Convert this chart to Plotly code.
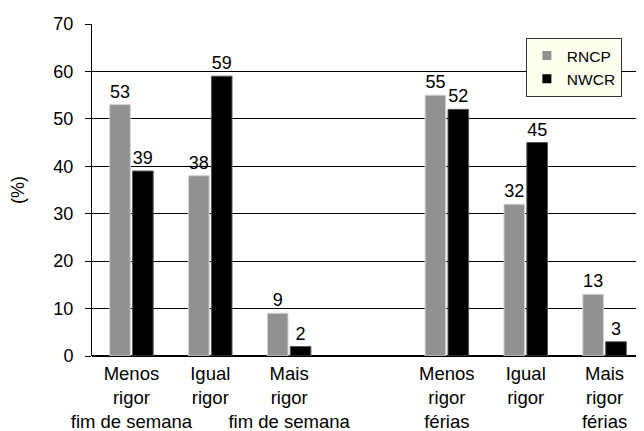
import plotly.graph_objects as go

positions = [0, 1, 2, 4, 5, 6]
labels = ["Menos<br>rigor<br>fim de semana", "Igual<br>rigor", "Mais<br>rigor<br>fim de semana",
          "Menos<br>rigor<br>férias", "Igual<br>rigor", "Mais<br>rigor<br>férias"]
rncp = [53, 38, 9, 55, 32, 13]
nwcr = [39, 59, 2, 52, 45, 3]

font = "Liberation Sans, Arial, sans-serif"
gray = "#919191"

fig = go.Figure()
fig.add_trace(go.Bar(x=positions, y=rncp, name="RNCP", showlegend=False,
                     marker=dict(color=gray, line=dict(color="#d0d0d0", width=1)),
                     text=[str(v) for v in rncp], textposition="outside",
                     textfont=dict(size=18, color="black", family=font), cliponaxis=False))
fig.add_trace(go.Bar(x=positions, y=nwcr, name="NWCR", showlegend=False,
                     marker=dict(color="#000000", line=dict(color="#555555", width=1)),
                     text=[str(v) for v in nwcr], textposition="outside",
                     textfont=dict(size=18, color="black", family=font), cliponaxis=False))
# legend entries with small square markers
fig.add_trace(go.Scatter(x=[None], y=[None], mode="markers", name="RNCP",
                         marker=dict(symbol="square", size=9, color=gray)))
fig.add_trace(go.Scatter(x=[None], y=[None], mode="markers", name="NWCR",
                         marker=dict(symbol="square", size=9, color="black")))

fig.update_layout(
    width=636, height=423,
    margin=dict(l=84, r=0, t=16, b=75),
    paper_bgcolor="white", plot_bgcolor="white",
    barmode="group", bargap=0.42, bargroupgap=0.1,
    font=dict(family=font, size=18, color="black"),
    showlegend=True,
    legend=dict(x=0.786, y=0.958, xanchor="left", yanchor="top",
                bgcolor="#fffff0", bordercolor="#333333", borderwidth=1,
                font=dict(size=15.5, family=font), itemwidth=30,
                tracegroupgap=0),
    xaxis=dict(range=[-0.5, 6.5], tickmode="array", tickvals=positions, ticktext=labels,
               showgrid=False, zeroline=False, showline=False, ticks="",
               tickangle=0, automargin=False, ticklabelstandoff=4,
               tickfont=dict(size=18.5)),
    yaxis=dict(range=[0, 70], dtick=10, showgrid=True, gridcolor="black", gridwidth=1,
               showline=True, linecolor="black", linewidth=1, ticks="outside",
               ticklen=6, tickcolor="black", zeroline=True, zerolinecolor="black",
               ticklabelstandoff=8, automargin=False,
               title=dict(text="(%)", font=dict(size=18), standoff=26),
               tickfont=dict(size=18)),
)

fig.write_html("out.html")
